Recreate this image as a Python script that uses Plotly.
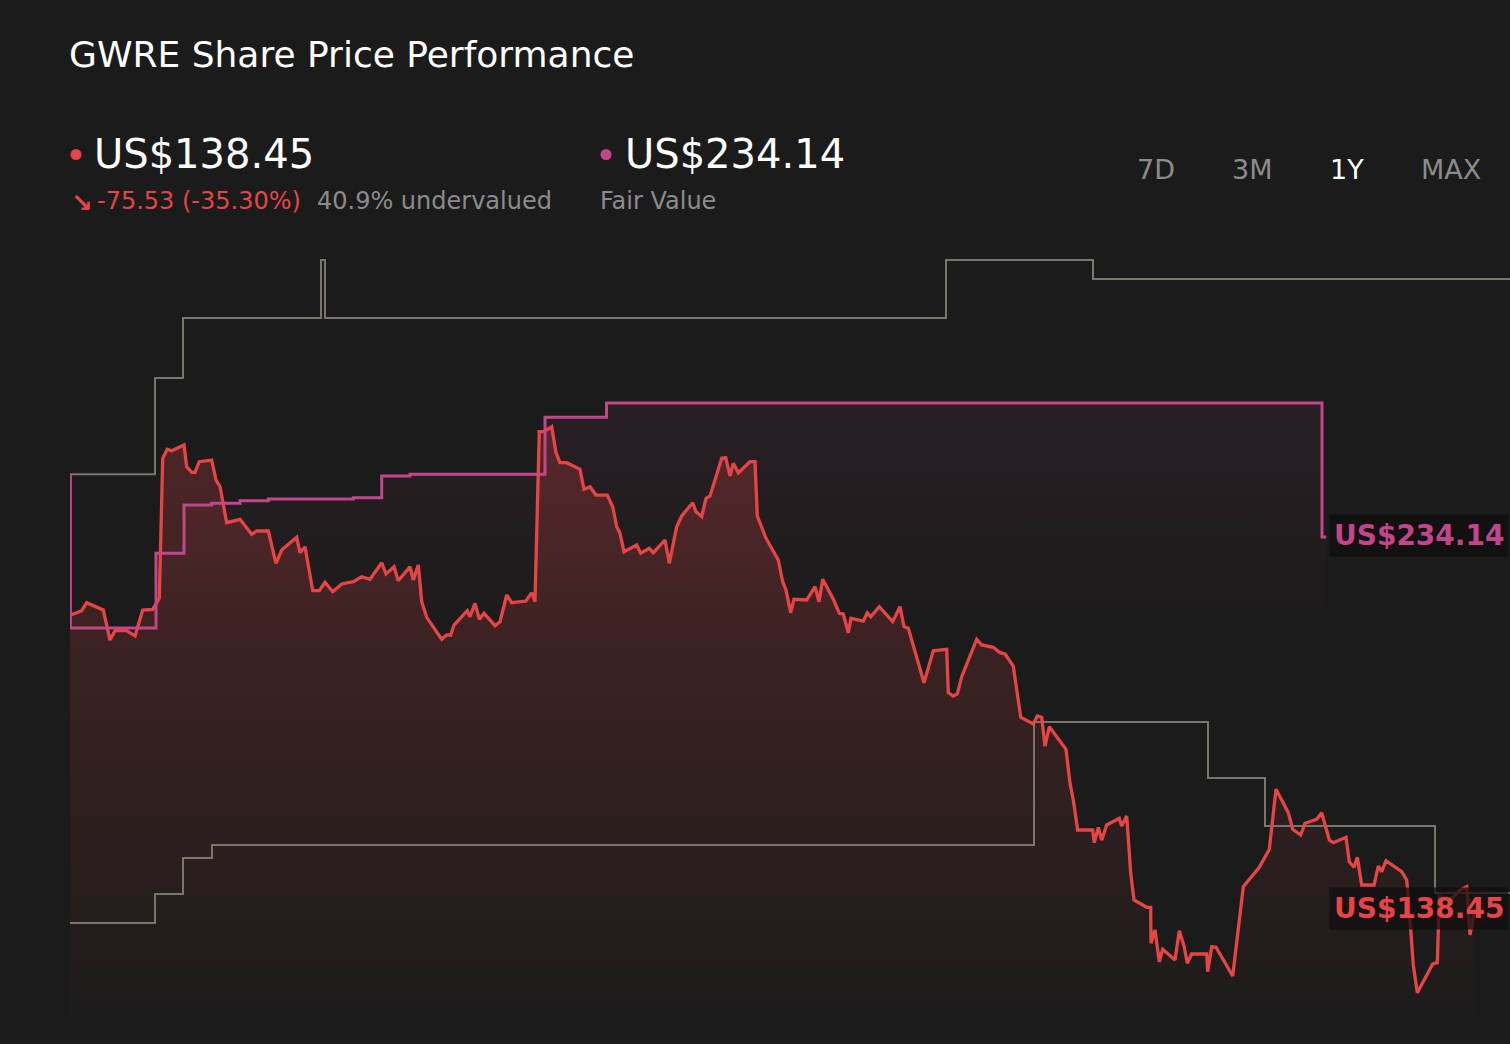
import pandas as pd
import plotly.graph_objects as go

# GWRE share price over one year
start_date = pd.Timestamp('2025-02-03')
n_days = 365

price_days = [0.0, 2.97, 4.23, 8.04, 8.44, 10.14, 11.41, 14.37, 16.48, 18.43,
              20.96, 22.64, 23.50, 24.66, 25.78, 28.90, 29.58, 30.85, 31.68, 32.77,
              35.92, 37.01, 38.02, 39.72, 43.09, 46.06, 47.32, 50.26, 52.21, 53.66,
              57.46, 58.30, 59.57, 61.52, 63.19, 64.64, 66.59, 68.87, 71.81, 73.94,
              76.04, 79.01, 80.10, 82.13, 83.21, 86.18, 87.02, 88.28, 89.15, 90.41,
              94.22, 95.48, 96.50, 97.33, 100.70, 101.39, 102.66, 103.75, 104.94, 107.73,
              108.99, 110.69, 111.96, 115.58, 117.03, 117.86, 118.95, 120.14, 122.10, 123.19,
              124.20, 125.90, 129.27, 130.28, 131.81, 133.33, 136.19, 137.56, 138.57, 139.41,
              140.42, 143.64, 144.66, 146.84, 147.85, 150.82, 151.91, 153.78, 155.05, 157.84,
              158.68, 160.12, 161.21, 162.23, 165.19, 166.20, 167.29, 168.13, 169.40, 172.36,
              173.63, 174.21, 176.42, 179.54, 180.65, 181.48, 182.68, 183.51, 186.73, 188.84,
              189.85, 190.79, 193.48, 195.00, 196.01, 197.28, 197.96, 201.08, 202.09, 202.95,
              205.13, 208.53, 210.38, 211.40, 212.49, 216.47, 218.82, 222.22, 222.62, 223.89,
              224.90, 226.02, 229.82, 231.09, 234.03, 235.73, 237.00, 239.10, 240.98, 244.17,
              245.19, 246.30, 247.14, 248.23, 252.46, 253.47, 254.31, 255.42, 259.22, 259.63,
              260.64, 261.51, 262.77, 265.97, 266.58, 267.85, 268.86, 269.70, 272.92, 273.93,
              274.00, 275.02, 276.11, 276.97, 280.09, 281.18, 282.37, 283.21, 284.32, 288.12,
              288.38, 289.39, 290.48, 294.71, 297.40, 301.46, 302.90, 303.99, 305.69, 308.81,
              309.92, 311.95, 313.04, 316.01, 317.27, 319.20, 320.21, 323.43, 324.27, 325.46,
              326.30, 327.41, 330.53, 331.62, 332.48, 333.57, 337.55, 338.82, 339.66, 340.49,
              341.51, 345.41, 346.58, 347.08, 349.80, 352.33, 354.03, 354.86, 356.13]
price_vals = [213.98, 215.13, 217.20, 215.49, 215.31, 207.57, 209.97, 209.97, 208.61, 215.31,
              215.49, 218.33, 254.44, 256.76, 256.40, 257.87, 252.27, 250.83, 250.83, 253.56,
              254.00, 248.84, 247.12, 237.83, 238.71, 234.84, 235.69, 235.69, 227.36, 230.79,
              234.06, 230.09, 231.64, 220.29, 220.29, 222.46, 220.03, 222.02, 222.61, 223.90,
              223.23, 227.51, 224.60, 226.48, 222.87, 226.48, 223.05, 226.92, 217.45, 213.43,
              207.76, 208.86, 208.86, 211.44, 215.13, 213.58, 217.04, 212.92, 214.46, 211.26,
              212.30, 219.18, 217.20, 217.63, 219.78, 217.45, 261.30, 261.30, 262.59, 255.89,
              253.31, 253.31, 251.60, 246.45, 247.12, 244.97, 244.97, 241.96, 236.80, 235.10,
              230.35, 232.08, 229.94, 231.23, 230.09, 233.37, 227.36, 236.80, 239.56, 242.99,
              240.67, 239.38, 244.12, 244.72, 254.44, 254.60, 249.88, 253.15, 250.73, 253.56,
              253.56, 239.56, 233.81, 228.21, 222.61, 220.47, 214.62, 218.07, 217.89, 221.32,
              217.45, 223.23, 218.07, 214.46, 214.28, 209.46, 213.17, 212.48, 214.62, 213.58,
              216.17, 212.30, 216.17, 211.01, 210.59, 196.56, 204.82, 205.18, 193.98, 193.13,
              193.65, 198.11, 207.76, 206.29, 205.69, 204.30, 203.96, 200.87, 187.64, 185.91,
              187.97, 187.64, 180.23, 185.21, 179.38, 170.61, 166.31, 158.57, 158.57, 155.29,
              159.26, 155.99, 159.86, 161.59, 159.60, 162.18, 147.40, 140.51, 138.63, 138.63,
              129.34, 132.78, 124.60, 127.80, 125.04, 132.60, 128.65, 124.19, 126.58, 126.58,
              122.02, 128.47, 128.32, 120.91, 143.94, 148.95, 151.68, 153.59, 169.07, 163.03,
              158.75, 157.28, 160.30, 161.33, 163.03, 155.99, 155.29, 156.68, 150.39, 148.95,
              151.52, 144.38, 144.38, 149.28, 147.81, 150.65, 147.81, 145.67, 135.35, 123.75,
              116.61, 124.01, 124.34, 141.36, 140.51, 143.09, 143.95, 131.49, 138.45]

# fair value estimate (step line)
fair_days = [0.0, 0.1, 21.80, 28.90, 35.92, 43.09, 50.26, 71.81, 79.01, 86.18, 120.40, 135.99, 317.35, 318.40]
fair_vals = [249.88, 210.67, 229.94, 242.40, 242.83, 243.50, 243.94, 244.28, 249.88, 250.32, 265.00, 268.70, 234.14, 234.14]

# analyst price target range (step lines)
high_days = [0.0, 21.55, 28.64, 63.62, 64.64, 222.04, 259.30, 365.0]
high_vals = [250.32, 275.15, 290.63, 305.59, 290.63, 305.59, 300.69, 300.69]
low_days = [0.0, 21.55, 28.64, 35.99, 244.35, 288.45, 302.90, 346.00, 365.0]
low_vals = [134.58, 142.06, 151.35, 154.70, 186.42, 171.98, 159.60, 142.32, 142.32]

periods = ['7D', '3M', '1Y', 'MAX']
active_period = '1Y'

y_range = [103.37, 313.33]

RED = '#e64545'
PINK = '#c2478a'
GREY_LINE = '#7a766a'
GREY_TEXT = '#8c8c8c'
BG = '#1b1b1b'
FONT = 'DejaVu Sans'

# plot area in pixels (used to place the header texts)
PLOT_L, PLOT_T, PLOT_W, PLOT_H = 70, 230, 1440, 814


def px(x):
    return (x - PLOT_L) / PLOT_W


def py(y):
    return (PLOT_T + PLOT_H - y) / PLOT_H


def to_dates(days):
    return start_date + pd.to_timedelta(days, unit='D')


price_x = to_dates(price_days)
fair_x = to_dates(fair_days)

last_price = price_vals[-1]
fair_value = fair_vals[-1]
change = last_price - price_vals[0]
change_pct = change / price_vals[0] * 100
undervalued = (fair_value - last_price) / fair_value * 100

fig = go.Figure()

# faint tint under the fair value line
fig.add_scatter(x=fair_x, y=fair_vals, mode='lines', line=dict(width=0, shape='hv'),
                fill='tozeroy',
                fillgradient=dict(type='vertical', start=205, stop=max(fair_vals),
                                  colorscale=[[0, 'rgba(194,71,138,0)'], [1, 'rgba(194,71,138,0.08)']]),
                hoverinfo='skip')

# price area
fig.add_scatter(x=price_x, y=price_vals, mode='lines', line=dict(width=0),
                fill='tozeroy',
                fillgradient=dict(type='vertical', start=y_range[0], stop=max(price_vals),
                                  colorscale=[[0, 'rgba(230,69,69,0)'], [1, 'rgba(230,69,69,0.25)']]),
                hoverinfo='skip')

fig.add_scatter(x=to_dates(high_days), y=high_vals, mode='lines', name='Analyst High',
                line=dict(color=GREY_LINE, width=2, shape='hv'))
fig.add_scatter(x=to_dates(low_days), y=low_vals, mode='lines', name='Analyst Low',
                line=dict(color=GREY_LINE, width=2, shape='hv'))

fig.add_scatter(x=price_x, y=price_vals, mode='lines', name='Share Price',
                line=dict(color=RED, width=3.3))

# glow at the last price
fig.add_scatter(x=[price_x[-1]], y=[last_price], mode='markers',
                marker=dict(size=40, color='rgba(230,69,69,0.10)', line=dict(width=0)), hoverinfo='skip')
fig.add_scatter(x=[price_x[-1]], y=[last_price], mode='markers',
                marker=dict(size=20, color='rgba(230,69,69,0.15)', line=dict(width=0)), hoverinfo='skip')

fig.add_scatter(x=fair_x, y=fair_vals, mode='lines', name='Fair Value',
                line=dict(color=PINK, width=3, shape='hv'))

# header texts (left edge in pixels, vertical centre in pixels, size, colour, weight)
header = [
    ('GWRE Share Price Performance', 67, 55, 36, 'white', 'normal'),
    (f'US${last_price:.2f}', 92, 154, 40, 'white', 'normal'),
    ('↘', 69, 203, 26, RED, 'bold'),
    (f'{change:.2f} ({change_pct:.2f}%)', 95, 201, 24, RED, 'normal'),
    (f'{undervalued:.1f}% undervalued', 315, 201, 24, GREY_TEXT, 'normal'),
    (f'US${fair_value:.2f}', 623, 154, 40, 'white', 'normal'),
    ('Fair Value', 598, 201, 24, GREY_TEXT, 'normal'),
]
for text, x, y, size, color, weight in header:
    fig.add_annotation(x=px(x), y=py(y), xref='paper', yref='paper', text=text,
                       xanchor='left', yanchor='middle', showarrow=False,
                       font=dict(size=size, color=color, weight=weight))

for cx, color in [(76, RED), (606, PINK)]:
    fig.add_shape(type='circle', xref='paper', yref='paper',
                  x0=px(cx - 5.5), x1=px(cx + 5.5), y0=py(160), y1=py(149),
                  fillcolor=color, line=dict(width=0))

for p, cx in zip(periods, [1156, 1252, 1347, 1451]):
    fig.add_annotation(x=px(cx), y=py(170), xref='paper', yref='paper', text=p,
                       xanchor='center', yanchor='middle', showarrow=False,
                       font=dict(size=27, color='white' if p == active_period else GREY_TEXT))

# value labels at the right
for val, color, shift in [(fair_value, PINK, 2), (last_price, RED, 0)]:
    fig.add_annotation(x=px(1329), xref='paper', y=val, yref='y', text=f'US${val:.2f}',
                       xanchor='left', yanchor='middle', showarrow=False, yshift=shift,
                       font=dict(size=28, color=color, weight='bold'),
                       bgcolor='rgba(18,14,15,0.75)', borderpad=4)

fig.update_layout(
    width=1510, height=1044,
    margin=dict(l=PLOT_L, r=0, t=PLOT_T, b=0),
    paper_bgcolor=BG, plot_bgcolor=BG,
    font=dict(family=FONT),
    showlegend=False,
    hovermode=False,
    xaxis=dict(visible=False, range=[start_date, start_date + pd.Timedelta(days=n_days)]),
    yaxis=dict(visible=False, range=y_range),
)

fig.write_html("out.html", config={'displayModeBar': False},
               post_script="document.body.style.margin='0';")
